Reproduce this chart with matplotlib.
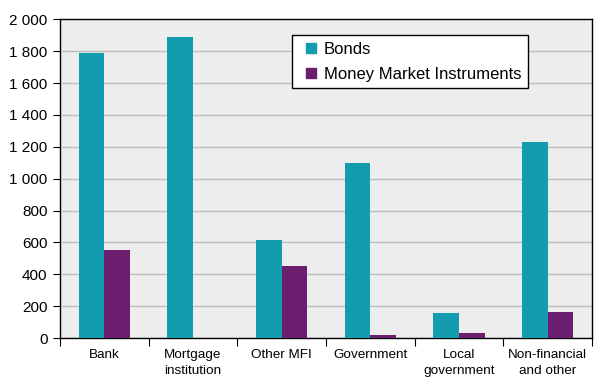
import numpy as np
import matplotlib
matplotlib.use("Agg")
from matplotlib import pyplot as plt
from matplotlib.lines import Line2D

plt.rcParams['font.family'] = ['Liberation Sans', 'DejaVu Sans']

categories = ["Bank", "Mortgage\ninstitution", "Other MFI", "Government",
              "Local\ngovernment", "Non-financial\nand other"]
bonds = [1790, 1890, 615, 1100, 160, 1230]
mmi   = [550, 0, 450, 20, 30, 165]
yticks = [0, 200, 400, 600, 800, 1000, 1200, 1400, 1600, 1800, 2000]
series = ["Bonds", "Money Market Instruments"]

teal   = "#139bb0"
purple = "#6b1e70"

fig = plt.figure(figsize=(6.15, 3.9), dpi=100)
ax  = fig.add_axes([0.0976, 0.1333, 0.865, 0.817])
ax.set_facecolor("#ededed")

x = np.arange(len(categories))
w = 0.29
ax.bar(x - w/2, bonds, w, color=teal, zorder=3)
ax.bar(x + w/2, mmi,   w, color=purple, zorder=3)

ax.set_xlim(-0.5, len(categories) - 0.5)
ax.set_ylim(0, 2000)
ax.set_yticks(yticks)
ax.set_yticklabels([f"{v:,}".replace(",", " ") for v in yticks], fontsize=11)
ax.yaxis.grid(True, color="#bdbdbd", lw=1, zorder=1)

# ticks between categories, labels centred
ax.set_xticks(np.arange(len(categories) + 1) - 0.5)
ax.set_xticklabels([])
ax.set_xticks(x, minor=True)
ax.set_xticklabels(categories, minor=True, fontsize=9.7, linespacing=1.45)
ax.tick_params(axis="x", which="minor", length=0, pad=8)
ax.tick_params(axis="x", which="major", length=6, color="black")
ax.tick_params(axis="y", length=5, color="black", pad=4)

for s in ax.spines.values():
    s.set_color("black")
    s.set_linewidth(1)

handles = [Line2D([], [], ls="none", marker="s", markersize=6.5, color=c)
           for c in (teal, purple)]
leg = ax.legend(handles, series, loc="upper left", bbox_to_anchor=(0.436, 0.951),
                fontsize=12, frameon=True, fancybox=False, edgecolor="black",
                framealpha=1, numpoints=1, handlelength=1.5, handletextpad=0.0,
                labelspacing=0.6, borderpad=0.4, borderaxespad=0)
leg.get_frame().set_linewidth(1)

fig.savefig("out.png", dpi=100)
